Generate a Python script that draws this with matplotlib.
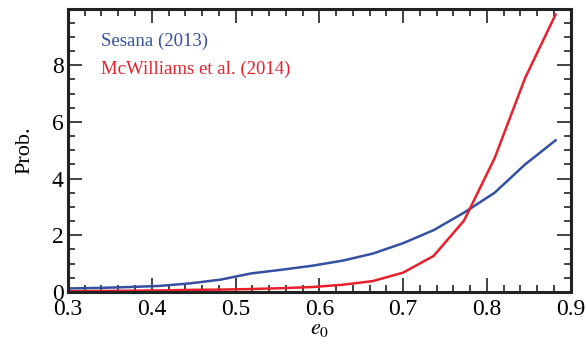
import numpy as np
import matplotlib
matplotlib.use("Agg")
import matplotlib.pyplot as plt
from matplotlib.ticker import MultipleLocator

plt.rcParams['font.family'] = ['Liberation Serif', 'DejaVu Serif']
plt.rcParams['mathtext.fontset'] = 'stix'

# eccentricity grid and probability curves
e0 = [0.3000, 0.3364, 0.3727, 0.4091, 0.4455, 0.4818, 0.5182, 0.5545, 0.5909,
      0.6273, 0.6636, 0.7000, 0.7364, 0.7727, 0.8091, 0.8455, 0.8818]
sesana = [0.12, 0.14, 0.17, 0.21, 0.30, 0.43, 0.65, 0.78, 0.92,
          1.10, 1.35, 1.72, 2.18, 2.80, 3.50, 4.50, 5.35]
mcwilliams = [0.02, 0.03, 0.04, 0.05, 0.07, 0.08, 0.10, 0.13, 0.17,
              0.25, 0.38, 0.68, 1.27, 2.52, 4.72, 7.55, 9.79]

blue = '#3350a3'
red = '#e8202a'

fig = plt.figure(figsize=(5.86, 3.45), dpi=100)
ax = fig.add_axes([0.116, 0.154, 0.858, 0.82])

ax.plot(e0, sesana, color=blue, lw=1.8)
ax.plot(e0, mcwilliams, color=red, lw=1.8)

ax.set_xlim(0.3, 0.9)
ax.set_ylim(0, 9.99)
ax.xaxis.set_major_locator(MultipleLocator(0.1))
ax.xaxis.set_minor_locator(MultipleLocator(0.02))
ax.yaxis.set_major_locator(MultipleLocator(2))
ax.yaxis.set_minor_locator(MultipleLocator(0.5))
ax.tick_params(which='both', direction='in', top=True, right=True,
               labelsize=17, width=1.2, color='#222222')
ax.tick_params(which='major', length=10)
ax.tick_params(which='minor', length=5)
ax.tick_params(axis='x', which='major', pad=5)
ax.tick_params(axis='y', which='major', pad=3)
for s in ax.spines.values():
    s.set_linewidth(2.2)
    s.set_color('#222222')

ax.set_xlabel(r'$e_{\rm 0}$', fontsize=16, labelpad=0)
ax.set_ylabel('Prob.', fontsize=16, labelpad=13)

ax.text(0.065, 0.87, 'Sesana (2013)', color=blue, fontsize=13.5,
        transform=ax.transAxes)
ax.text(0.065, 0.772, 'McWilliams et al. (2014)', color=red, fontsize=13.5,
        transform=ax.transAxes)

fig.savefig('out.png', dpi=100)
